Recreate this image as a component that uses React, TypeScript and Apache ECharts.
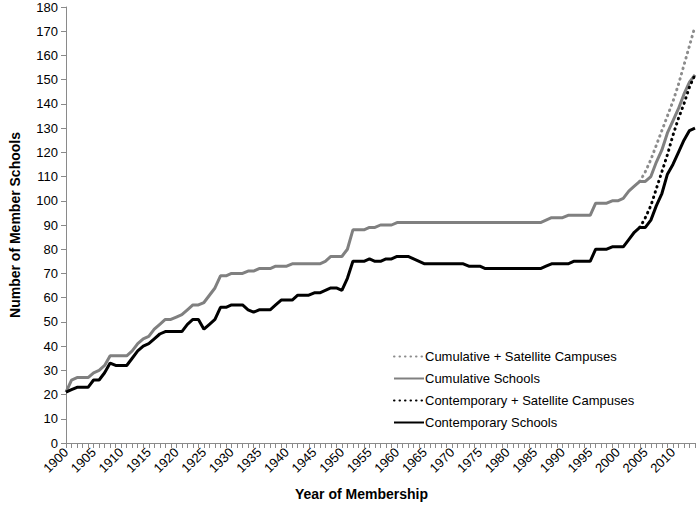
import React, { useEffect, useRef } from "react";
import * as echarts from "echarts";

const years: string[] = [];
for (let y = 1900; y <= 2014; y++) years.push(String(y));

const cumulativeSchools = [
  21, 26, 27, 27, 27, 29, 30, 32, 36, 36,
  36, 36, 38, 41, 43, 44, 47, 49, 51, 51,
  52, 53, 55, 57, 57, 58, 61, 64, 69, 69,
  70, 70, 70, 71, 71, 72, 72, 72, 73, 73,
  73, 74, 74, 74, 74, 74, 74, 75, 77, 77,
  77, 80, 88, 88, 88, 89, 89, 90, 90, 90,
  91, 91, 91, 91, 91, 91, 91, 91, 91, 91,
  91, 91, 91, 91, 91, 91, 91, 91, 91, 91,
  91, 91, 91, 91, 91, 91, 91, 92, 93, 93,
  93, 94, 94, 94, 94, 94, 99, 99, 99, 100,
  100, 101, 104, 106, 108, 108, 110, 116, 121, 128,
  133, 138, 144, 149, 152,
];

const contemporarySchools = [
  21, 22, 23, 23, 23, 26, 26, 29, 33, 32,
  32, 32, 35, 38, 40, 41, 43, 45, 46, 46,
  46, 46, 49, 51, 51, 47, 49, 51, 56, 56,
  57, 57, 57, 55, 54, 55, 55, 55, 57, 59,
  59, 59, 61, 61, 61, 62, 62, 63, 64, 64,
  63, 68, 75, 75, 75, 76, 75, 75, 76, 76,
  77, 77, 77, 76, 75, 74, 74, 74, 74, 74,
  74, 74, 74, 73, 73, 73, 72, 72, 72, 72,
  72, 72, 72, 72, 72, 72, 72, 73, 74, 74,
  74, 74, 75, 75, 75, 75, 80, 80, 80, 81,
  81, 81, 84, 87, 89, 89, 92, 98, 103, 111,
  115, 120, 125, 129, 130,
];

// satellite-inclusive series start in 2004
const cumulativeSatelliteTail = [108, 112, 117, 123, 129, 135, 141, 148, 156, 164, 172];
const contemporarySatelliteTail = [89, 93, 98, 105, 112, 119, 127, 134, 140, 147, 152];
const satelliteStartYear = 2004;

const yTicks = { min: 0, max: 180, interval: 10 };

function padTail(tail: number[]): (number | null)[] {
  const start = years.indexOf(String(satelliteStartYear));
  const out: (number | null)[] = years.map(() => null);
  tail.forEach((v, i) => (out[start + i] = v));
  return out;
}

const FONT = "Liberation Sans, Arial, sans-serif";
const GRAY = "#808080";
const AXIS_GRAY = "#8a8a8a";

export default function App() {
  const ref = useRef<HTMLDivElement>(null);
  useEffect(() => {
    if (!ref.current) return;
    const chart = echarts.init(ref.current, undefined, { renderer: "svg" });
    chart.setOption({
      animation: false,
      backgroundColor: "#ffffff",
      grid: { left: 65, right: 4, top: 7, bottom: 72, containLabel: false },
      legend: {
        orient: "vertical",
        left: 388,
        top: 345,
        itemWidth: 30,
        itemHeight: 14,
        itemGap: 9,
        itemStyle: { opacity: 0 },
        textStyle: { fontFamily: FONT, fontSize: 13, color: "#000", padding: [0, 0, 0, -4] },
        data: [
          "Cumulative + Satellite Campuses",
          "Cumulative Schools",
          "Contemporary + Satellite Campuses",
          "Contemporary Schools",
        ],
      },
      xAxis: {
        type: "category",
        data: years,
        boundaryGap: false,
        name: "Year of Membership",
        nameLocation: "middle",
        nameGap: 44,
        nameTextStyle: {
          fontFamily: FONT,
          fontSize: 14,
          fontWeight: "bold",
          color: "#000",
          padding: [0, 38, 0, 0],
        },
        axisLine: { lineStyle: { color: AXIS_GRAY, width: 1 } },
        axisTick: { show: true, interval: 0, length: 5, lineStyle: { color: AXIS_GRAY } },
        axisLabel: {
          interval: 4,
          rotate: 45,
          fontFamily: FONT,
          fontSize: 13,
          color: "#000",
          margin: 7,
        },
        splitLine: { show: false },
      },
      yAxis: {
        type: "value",
        min: yTicks.min,
        max: yTicks.max,
        interval: yTicks.interval,
        name: "Number of Member Schools",
        nameLocation: "middle",
        nameGap: 44,
        nameTextStyle: { fontFamily: FONT, fontSize: 14, fontWeight: "bold", color: "#000" },
        axisLine: { show: true, lineStyle: { color: AXIS_GRAY, width: 1 } },
        axisTick: { show: true, length: 5, lineStyle: { color: AXIS_GRAY } },
        axisLabel: { fontFamily: FONT, fontSize: 13, color: "#000", margin: 8 },
        splitLine: { show: false },
      },
      series: [
        {
          name: "Cumulative + Satellite Campuses",
          type: "line",
          data: padTail(cumulativeSatelliteTail),
          showSymbol: false,
          symbol: "none",
          connectNulls: false,
          lineStyle: { color: "#8c8c8c", width: 3, type: [0.5, 5], cap: "round" },
          itemStyle: { color: "#8c8c8c" },
        },
        {
          name: "Cumulative Schools",
          type: "line",
          data: cumulativeSchools,
          showSymbol: false,
          symbol: "none",
          lineStyle: { color: GRAY, width: 3 },
          itemStyle: { color: GRAY },
        },
        {
          name: "Contemporary + Satellite Campuses",
          type: "line",
          data: padTail(contemporarySatelliteTail),
          showSymbol: false,
          symbol: "none",
          connectNulls: false,
          lineStyle: { color: "#000", width: 3, type: [0.5, 5], cap: "round" },
          itemStyle: { color: "#000" },
        },
        {
          name: "Contemporary Schools",
          type: "line",
          data: contemporarySchools,
          showSymbol: false,
          symbol: "none",
          lineStyle: { color: "#000", width: 3 },
          itemStyle: { color: "#000" },
        },
      ],
    });
    return () => chart.dispose();
  }, []);
  return (
    <div
      ref={ref}
      style={{ position: "absolute", left: 0, top: 0, width: 699, height: 515 }}
    />
  );
}
